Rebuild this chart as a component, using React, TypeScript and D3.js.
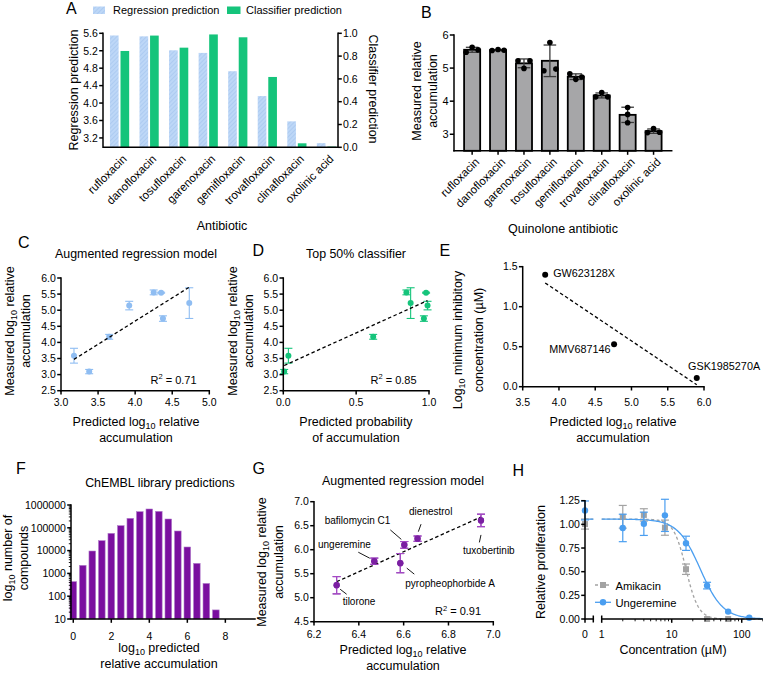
import React from 'react';
import * as d3 from 'd3';

const FONT = '"Liberation Sans", Arial, Helvetica, sans-serif';
const GREEN = '#15c47b';
const LIGHT_BLUE = '#8fbdf2';
const F_PURPLE = '#7a0e9f';
const G_PURPLE = '#7b1fa2';
const G_ERR = '#a64bc7';
const H_BLUE = '#4a9ef0';
const H_GRAY = '#a3a3a3';
const BAR_GRAY = '#a6a6a8';
const SW = 1.5;

// ---- A: predictions for quinolones
const predAntibiotics = ['rufloxacin', 'danofloxacin', 'tosufloxacin', 'garenoxacin', 'gemifloxacin', 'trovafloxacin', 'clinafloxacin', 'oxolinic acid'];
const regressionPrediction = [5.55, 5.53, 5.21, 5.15, 4.73, 4.16, 3.58, 3.08];
const classifierPrediction = [0.845, 0.98, 0.874, 0.99, 0.965, 0.617, 0.035, 0.006];
const aLeftTicks = [3.2, 3.6, 4.0, 4.4, 4.8, 5.2, 5.6];
const aRightTicks = [0, 0.2, 0.4, 0.6, 0.8, 1.0];

// ---- B: measured accumulation (3 replicates)
const measuredAntibiotics = ['rufloxacin', 'danofloxacin', 'garenoxacin', 'tosufloxacin', 'gemifloxacin', 'trovafloxacin', 'clinafloxacin', 'oxolinic acid'];
const measuredReplicates = [
  [5.48, 5.63, 5.55],
  [5.53, 5.56, 5.54],
  [5.22, 4.99, 5.22],
  [4.92, 5.77, 4.97],
  [4.83, 4.66, 4.73],
  [4.13, 4.26, 4.13],
  [3.81, 3.35, 3.6],
  [3.05, 3.17, 3.06],
];
const bTicks = [3, 4, 5, 6];

// ---- C / D (same order as measuredAntibiotics)
const augmentedPrediction = [4.25, 4.35, 3.92, 4.73, 4.375, 3.65, 3.175, 3.38];
const cxTicks = [3.0, 3.5, 4.0, 4.5, 5.0];
const cdyTicks = [2.5, 3.0, 3.5, 4.0, 4.5, 5.0, 5.5, 6.0];
const dxTicks = [0, 0.5, 1.0];

// ---- E
const mtbCompounds = ['GW623128X', 'MMV687146', 'GSK1985270A'];
const mtbPredicted = [3.81, 4.76, 5.9];
const mtbLogMIC = [1.4, 0.53, 0.11];
const exTicks = [3.5, 4.0, 4.5, 5.0, 5.5, 6.0];
const eyTicks = [0, 0.5, 1.0, 1.5];

// ---- F
const binCenters = [0, 0.5, 1, 1.5, 2, 2.5, 3, 3.5, 4, 4.5, 5, 5.5, 6, 6.5, 7, 7.5];
const compoundCounts = [436, 2260, 9600, 27300, 57200, 124000, 260000, 510000, 668000, 527000, 243000, 72400, 14400, 2760, 363, 25];
const fxTicks = [0, 2, 4, 6, 8];
const fyTicks = [10, 100, 1000, 10000, 100000, 1000000];

// ---- G
const gCompounds = ['tilorone', 'ungeremine', 'pyropheophorbide A', 'bafilomycin C1', 'dienestrol', 'tuxobertinib'];
const gPredicted = [6.301, 6.469, 6.585, 6.603, 6.662, 6.945];
const gMeasured = [5.26, 5.76, 5.72, 6.1, 6.23, 6.61];
const gSD = [0.18, 0.065, 0.2, 0.07, 0.055, 0.13];
const gxTicks = [6.2, 6.4, 6.6, 6.8, 7.0];
const gyTicks = [4.5, 5.0, 5.5, 6.0, 6.5, 7.0];

// ---- H
const concentrations = [0, 2, 4, 8, 16, 32, 64, 128];
const amikacinMean = [1.003, 1.08, 1.1, 0.965, 0.526, 0.0, 0.0, NaN];
const amikacinSD = [0.053, 0.12, 0.065, 0.08, 0.055, 0, 0, NaN];
const ungeremineMean = [1.147, 0.962, 1.006, 1.095, 0.8, 0.353, 0.078, 0.014];
const ungeremineSD = [0.1, 0.145, 0.123, 0.17, 0.075, 0.035, 0.008, 0.004];
const amikacinFit = { top: 1.055, bottom: 0, ic50: 16, hill: 4.9 };
const ungeremineFit = { top: 1.055, bottom: 0, ic50: 25.6, hill: 2.7 };
const hyTicks = [0, 0.25, 0.5, 0.75, 1.0, 1.25];

const f1 = d3.format('.1f');
const f2 = d3.format('.2f');

function linFit(xs: number[], ys: number[]) {
  const mx = d3.mean(xs)!;
  const my = d3.mean(ys)!;
  const sxy = d3.sum(xs, (x, i) => (x - mx) * (ys[i] - my));
  const sxx = d3.sum(xs, (x) => (x - mx) ** 2);
  const slope = sxy / sxx;
  return (x: number) => my + slope * (x - mx);
}

function AxisLeft({ scale, x, ticks, fmt, fs = 10.5, len = 3.8, minor = [] }: any) {
  const [r0, r1] = scale.range();
  return (
    <g>
      {minor.map((v: number) => (
        <line key={'m' + v} x1={x - 2.2} x2={x} y1={scale(v)} y2={scale(v)} stroke="#000" strokeWidth={0.9} />
      ))}
      {ticks.map((v: number) => (
        <g key={v}>
          <line x1={x - len} x2={x} y1={scale(v)} y2={scale(v)} stroke="#000" strokeWidth={SW} />
          <text x={x - len - 1.3} y={scale(v)} dy="0.36em" fontSize={fs} textAnchor="end">{fmt(v)}</text>
        </g>
      ))}
      <line x1={x} x2={x} y1={r0} y2={r1} stroke="#000" strokeWidth={SW} strokeLinecap="square" />
    </g>
  );
}

function AxisRight({ scale, x, ticks, fmt, fs = 10.5, len = 3.8 }: any) {
  const [r0, r1] = scale.range();
  return (
    <g>
      {ticks.map((v: number) => (
        <g key={v}>
          <line x1={x} x2={x + len} y1={scale(v)} y2={scale(v)} stroke="#000" strokeWidth={SW} />
          <text x={x + len + 1.3} y={scale(v)} dy="0.36em" fontSize={fs}>{fmt(v)}</text>
        </g>
      ))}
      <line x1={x} x2={x} y1={r0} y2={r1} stroke="#000" strokeWidth={SW} strokeLinecap="square" />
    </g>
  );
}

function AxisBottom({ scale, y, ticks, fmt, fs = 10.5, len = 3.8, off = 15.5, from, to }: any) {
  const [r0, r1] = scale.range();
  return (
    <g>
      {ticks.map((v: number) => (
        <g key={v}>
          <line x1={scale(v)} x2={scale(v)} y1={y} y2={y + len} stroke="#000" strokeWidth={SW} />
          <text x={scale(v)} y={y + off} fontSize={fs} textAnchor="middle">{fmt(v)}</text>
        </g>
      ))}
      <line x1={from ?? r0} x2={to ?? r1} y1={y} y2={y} stroke="#000" strokeWidth={SW} strokeLinecap="square" />
    </g>
  );
}

function Log10Text({ pre, post, fs = 12.5 }: { pre: string; post: string; fs?: number }) {
  return (
    <>
      <tspan>{pre}</tspan>
      <tspan fontSize={fs * 0.72} dy={fs * 0.24}>10</tspan>
      <tspan dy={-fs * 0.24}>{post}</tspan>
    </>
  );
}

function RSquared({ x, y, value }: { x: number; y: number; value: string }) {
  return (
    <text x={x} y={y} fontSize={11}>
      <tspan>R</tspan>
      <tspan fontSize={7.5} dy={-4.5}>2</tspan>
      <tspan dy={4.5}>{` = ${value}`}</tspan>
    </text>
  );
}

function PanelLabel({ x, y, t }: { x: number; y: number; t: string }) {
  return <text x={x} y={y} fontSize={16}>{t}</text>;
}

function ErrBar({ x, y0, y1, cap, color, w = 1.2 }: any) {
  return (
    <g stroke={color} strokeWidth={w}>
      <line x1={x} x2={x} y1={y0} y2={y1} />
      <line x1={x - cap} x2={x + cap} y1={y0} y2={y0} />
      <line x1={x - cap} x2={x + cap} y1={y1} y2={y1} />
    </g>
  );
}

function PanelA() {
  const x = d3.scaleBand<string>().domain(predAntibiotics).range([107, 339]).paddingInner(0.35).paddingOuter(0.1);
  const sub = d3.scaleBand<string>().domain(['reg', 'cls']).range([0, x.bandwidth()]).paddingInner(0.18);
  const yL = d3.scaleLinear().domain([2.985, 5.6]).range([147.3, 33.3]);
  const yR = d3.scaleLinear().domain([0, 1]).range([147.3, 33.3]);
  const base = 147.3;
  return (
    <g>
      {predAntibiotics.map((name, i) => {
        const gx = x(name)!;
        return (
          <g key={name}>
            <rect x={gx + sub('reg')!} y={yL(regressionPrediction[i])} width={sub.bandwidth()} height={base - yL(regressionPrediction[i])} fill="url(#hatch)" />
            <rect x={gx + sub('cls')!} y={yR(classifierPrediction[i])} width={sub.bandwidth()} height={base - yR(classifierPrediction[i])} fill={GREEN} />
            <text transform={`translate(${gx + x.bandwidth() / 2 + 2},${base + 6.5}) rotate(-45)`} textAnchor="end" dy="0.72em" fontSize={11.5}>{name}</text>
          </g>
        );
      })}
      <AxisLeft scale={yL} x={103} ticks={aLeftTicks} fmt={f1} />
      <AxisRight scale={yR} x={338} ticks={aRightTicks} fmt={f1} />
      <line x1={103} x2={338} y1={base} y2={base} stroke="#000" strokeWidth={SW} />
      <rect x={93} y={6.5} width={12} height={7.5} fill="url(#hatch)" />
      <text x={113} y={13.7} fontSize={11}>Regression prediction</text>
      <rect x={227} y={6.5} width={13.5} height={7.5} fill={GREEN} />
      <text x={246} y={13.7} fontSize={11}>Classifier prediction</text>
      <text x={222} y={230} fontSize={12.5} textAnchor="middle">Antibiotic</text>
      <text transform="translate(78,90) rotate(-90)" fontSize={12.5} textAnchor="middle">Regression prediction</text>
      <text transform="translate(368.5,89) rotate(90)" fontSize={12.5} textAnchor="middle">Classifier prediction</text>
      <PanelLabel x={66} y={13.5} t="A" />
    </g>
  );
}

function jitterOffsets(vals: number[], scale: (v: number) => number, r: number, spread: number) {
  const px = vals.map(scale);
  const overlapping = vals.map((_, i) => px.some((p, j) => j !== i && Math.abs(p - px[i]) < 2 * r + 0.5));
  const group = vals.map((_, i) => i).filter((i) => overlapping[i]);
  return vals.map((_, i) => {
    if (!overlapping[i]) return 0;
    const k = group.indexOf(i);
    if (group.length === 2) return k === 0 ? -spread : spread;
    return (k - (group.length - 1) / 2) * spread;
  });
}

function PanelB() {
  const x = d3.scaleBand<string>().domain(measuredAntibiotics).range([454, 671.7]).paddingInner(0.38).paddingOuter(0.39);
  const y = d3.scaleLinear().domain([2.5, 6]).range([150.8, 35]);
  const base = 150.8;
  return (
    <g>
      {measuredAntibiotics.map((name, i) => {
        const reps = measuredReplicates[i];
        const m = d3.mean(reps)!;
        const sd = d3.deviation(reps)!;
        const cx = x(name)! + x.bandwidth() / 2;
        const offs = jitterOffsets(reps, y, 2.8, 6);
        return (
          <g key={name}>
            <rect x={x(name)!} y={y(m)} width={x.bandwidth()} height={base - y(m)} fill={BAR_GRAY} stroke="#000" strokeWidth={1.8} />
            <ErrBar x={cx} y0={y(m + sd)} y1={y(m - sd)} cap={6.3} color="#3a3a3a" w={1.3} />
            {reps.map((v, k) => (
              <circle key={k} cx={cx + offs[k]} cy={y(v)} r={2.8} fill="#000" />
            ))}
            <line x1={cx} x2={cx} y1={base} y2={base + 4} stroke="#000" strokeWidth={SW} />
            <text transform={`translate(${cx + 2},${base + 6}) rotate(-45)`} textAnchor="end" dy="0.72em" fontSize={11.5}>{name}</text>
          </g>
        );
      })}
      <AxisLeft scale={y} x={454} ticks={bTicks} fmt={(v: number) => String(v)} fs={11} len={4.2} />
      <line x1={454} x2={671.7} y1={base} y2={base} stroke="#000" strokeWidth={SW} strokeLinecap="square" />
      <text x={563} y={233} fontSize={12.5} textAnchor="middle">Quinolone antibiotic</text>
      <text transform="translate(420.5,91) rotate(-90)" fontSize={12.5} textAnchor="middle">Measured relative</text>
      <text transform="translate(436.5,91) rotate(-90)" fontSize={12.5} textAnchor="middle">accumulation</text>
      <PanelLabel x={421} y={17.5} t="B" />
    </g>
  );
}

function ScatterWithFit({ xs, ys, sds, xScale, yScale, color, cap = 4, r = 3 }: any) {
  const fit = linFit(xs, ys);
  const x0 = d3.min(xs as number[])!;
  const x1 = d3.max(xs as number[])!;
  return (
    <g>
      {xs.map((xv: number, i: number) =>
        sds[i] > 0 ? (
          <ErrBar key={'e' + i} x={xScale(xv)} y0={yScale(ys[i] + sds[i])} y1={yScale(ys[i] - sds[i])} cap={cap} color={color} w={1.1} />
        ) : null
      )}
      {xs.map((xv: number, i: number) => (
        <circle key={'p' + i} cx={xScale(xv)} cy={yScale(ys[i])} r={r} fill={color} />
      ))}
      <line x1={xScale(x0)} y1={yScale(fit(x0))} x2={xScale(x1)} y2={yScale(fit(x1))} stroke="#000" strokeWidth={1.3} strokeDasharray="3.5,2.5" />
    </g>
  );
}

function PanelC() {
  const x = d3.scaleLinear().domain([3, 5]).range([61, 209.3]);
  const y = d3.scaleLinear().domain([2.5, 6]).range([390.7, 278]);
  const means = measuredReplicates.map((r) => d3.mean(r)!);
  const sds = measuredReplicates.map((r) => d3.deviation(r)!);
  return (
    <g>
      <ScatterWithFit xs={augmentedPrediction} ys={means} sds={sds} xScale={x} yScale={y} color={LIGHT_BLUE} />
      <AxisLeft scale={y} x={61} ticks={cdyTicks} fmt={f1} />
      <AxisBottom scale={x} y={390.7} ticks={cxTicks} fmt={f1} />
      <RSquared x={150.5} y={383.5} value="0.71" />
      <text x={136} y={258} fontSize={12.4} textAnchor="middle">Augmented regression model</text>
      <text transform="translate(14,331) rotate(-90)" fontSize={12.5} textAnchor="middle"><Log10Text pre="Measured log" post=" relative" /></text>
      <text transform="translate(30,331) rotate(-90)" fontSize={12.5} textAnchor="middle">accumulation</text>
      <text x={136} y={426} fontSize={12.5} textAnchor="middle"><Log10Text pre="Predicted log" post=" relative" /></text>
      <text x={136} y={442} fontSize={12.5} textAnchor="middle">accumulation</text>
      <PanelLabel x={18} y={247.5} t="C" />
    </g>
  );
}

function PanelD() {
  const x = d3.scaleLinear().domain([0, 1]).range([283.3, 429]);
  const y = d3.scaleLinear().domain([2.5, 6]).range([390.7, 278]);
  const means = measuredReplicates.map((r) => d3.mean(r)!);
  const sds = measuredReplicates.map((r) => d3.deviation(r)!);
  const probs = measuredAntibiotics.map((n) => classifierPrediction[predAntibiotics.indexOf(n)]);
  return (
    <g>
      <ScatterWithFit xs={probs} ys={means} sds={sds} xScale={x} yScale={y} color={GREEN} />
      <AxisLeft scale={y} x={283.3} ticks={cdyTicks} fmt={f1} />
      <AxisBottom scale={x} y={390.7} ticks={dxTicks} fmt={f1} />
      <RSquared x={370.5} y={383.5} value="0.85" />
      <text x={356} y={258} fontSize={12.4} textAnchor="middle">Top 50% classifier</text>
      <text transform="translate(236.5,331) rotate(-90)" fontSize={12.5} textAnchor="middle"><Log10Text pre="Measured log" post=" relative" /></text>
      <text transform="translate(252.5,331) rotate(-90)" fontSize={12.5} textAnchor="middle">accumulation</text>
      <text x={356} y={426} fontSize={12.5} textAnchor="middle">Predicted probability</text>
      <text x={356} y={442} fontSize={12.5} textAnchor="middle">of accumulation</text>
      <PanelLabel x={252.5} y={256} t="D" />
    </g>
  );
}

function PanelE() {
  const x = d3.scaleLinear().domain([3.5, 6]).range([522.7, 704]);
  const y = d3.scaleLinear().domain([0, 1.5]).range([386.7, 266.7]);
  const labelPlace: Record<string, { dx: number; dy: number; anchor: string }> = {
    GW623128X: { dx: 8, dy: 2.5, anchor: 'start' },
    MMV687146: { dx: -3.5, dy: 9, anchor: 'end' },
    GSK1985270A: { dx: -8.7, dy: -8, anchor: 'start' },
  };
  return (
    <g>
      <ScatterWithFit xs={mtbPredicted} ys={mtbLogMIC} sds={mtbPredicted.map(() => 0)} xScale={x} yScale={y} color="#000" />
      {mtbCompounds.map((c, i) => (
        <text key={c} x={x(mtbPredicted[i]) + labelPlace[c].dx} y={y(mtbLogMIC[i]) + labelPlace[c].dy} fontSize={10.8} textAnchor={labelPlace[c].anchor}>{c}</text>
      ))}
      <AxisLeft scale={y} x={522.7} ticks={eyTicks} fmt={f1} />
      <AxisBottom scale={x} y={386.7} ticks={exTicks} fmt={f1} off={19.5} />
      <text transform="translate(462,340) rotate(-90)" fontSize={12.5} textAnchor="middle"><Log10Text pre="Log" post=" minimum inhibitory" /></text>
      <text transform="translate(483,340) rotate(-90)" fontSize={12.5} textAnchor="middle">concentration (µM)</text>
      <text x={613} y={426} fontSize={12.5} textAnchor="middle"><Log10Text pre="Predicted log" post=" relative" /></text>
      <text x={613} y={442} fontSize={12.5} textAnchor="middle">accumulation</text>
      <PanelLabel x={439.5} y={256} t="E" />
    </g>
  );
}

function PanelF() {
  const x = d3.scaleLinear().domain([-0.12, 9.56]).range([71, 255]);
  const y = d3.scaleLog().domain([10, 1e6]).range([619, 505]);
  const barW = x(0.35) - x(0);
  const minor: number[] = [];
  fyTicks.slice(0, -1).forEach((d) => {
    for (let k = 2; k <= 9; k++) minor.push(d * k);
  });
  return (
    <g>
      {binCenters.map((b, i) => (
        <rect key={b} x={x(b) - barW / 2} y={y(compoundCounts[i])} width={barW} height={619 - y(compoundCounts[i])} fill={F_PURPLE} stroke="#b27fcb" strokeWidth={0.6} />
      ))}
      <AxisLeft scale={y} x={71} ticks={fyTicks} fmt={(v: number) => String(v)} minor={minor} />
      <AxisBottom scale={x} y={619} ticks={fxTicks} fmt={(v: number) => String(v)} off={20.5} from={71} to={255} />
      <text x={160} y={486.5} fontSize={12.4} textAnchor="middle">ChEMBL library predictions</text>
      <text transform="translate(12,558) rotate(-90)" fontSize={12.5} textAnchor="middle"><Log10Text pre="log" post=" number of" /></text>
      <text transform="translate(28,558) rotate(-90)" fontSize={12.5} textAnchor="middle">compounds</text>
      <text x={159} y={651.5} fontSize={12.5} textAnchor="middle"><Log10Text pre="log" post=" predicted" /></text>
      <text x={159} y={668} fontSize={12.5} textAnchor="middle">relative accumulation</text>
      <PanelLabel x={16} y={473.5} t="F" />
    </g>
  );
}

function PanelG() {
  const x = d3.scaleLinear().domain([6.2, 7]).range([314, 493.3]);
  const y = d3.scaleLinear().domain([4.5, 7]).range([621.7, 501.7]);
  // text offset and leader line (relative to the point) for each annotation
  const notes: Record<string, { dx: number; dy: number; anchor: string; lead: number[] }> = {
    tilorone: { dx: 6, dy: 20, anchor: 'start', lead: [3.5, 4, 10, 9] },
    ungeremine: { dx: -3.5, dy: -13, anchor: 'end', lead: [-16, -9, -4.5, -3] },
    'pyropheophorbide A': { dx: 5, dy: 24, anchor: 'start', lead: [6.5, 5, 14, 11] },
    'bafilomycin C1': { dx: -14, dy: -21, anchor: 'end', lead: [-14, -15, -3, -5.5] },
    dienestrol: { dx: -8.5, dy: -23.5, anchor: 'start', lead: [3.5, -14.5, 0.8, -7] },
    tuxobertinib: { dx: -18, dy: 33.5, anchor: 'start', lead: [0, 14.5, -1.6, 22] },
  };
  return (
    <g>
      <ScatterWithFit xs={gPredicted} ys={gMeasured} sds={gSD} xScale={x} yScale={y} color={G_PURPLE} cap={4} r={3.1} />
      {gSD.map((s, i) => (
        <ErrBar key={i} x={x(gPredicted[i])} y0={y(gMeasured[i] + s)} y1={y(gMeasured[i] - s)} cap={4} color={G_ERR} w={1.1} />
      ))}
      {gCompounds.map((c, i) => {
        const px = x(gPredicted[i]);
        const py = y(gMeasured[i]);
        const n = notes[c];
        return (
          <g key={c}>
            <circle cx={px} cy={py} r={3.1} fill={G_PURPLE} />
            <line x1={px + n.lead[0]} y1={py + n.lead[1]} x2={px + n.lead[2]} y2={py + n.lead[3]} stroke="#000" strokeWidth={0.9} />
            <text x={px + n.dx} y={py + n.dy} fontSize={10} textAnchor={n.anchor}>{c}</text>
          </g>
        );
      })}
      <AxisLeft scale={y} x={314} ticks={gyTicks} fmt={f1} />
      <AxisBottom scale={x} y={621.7} ticks={gxTicks} fmt={f1} off={16.5} />
      <RSquared x={435} y={615} value="0.91" />
      <text x={403} y={485} fontSize={12.4} textAnchor="middle">Augmented regression model</text>
      <text transform="translate(266,562) rotate(-90)" fontSize={12.5} textAnchor="middle"><Log10Text pre="Measured log" post=" relative" /></text>
      <text transform="translate(282.5,562) rotate(-90)" fontSize={12.5} textAnchor="middle">accumulation</text>
      <text x={403} y={653.5} fontSize={12.5} textAnchor="middle"><Log10Text pre="Predicted log" post=" relative" /></text>
      <text x={403} y={669.5} fontSize={12.5} textAnchor="middle">accumulation</text>
      <PanelLabel x={252.5} y={473.5} t="G" />
    </g>
  );
}

function PanelH() {
  const y = d3.scaleLinear().domain([0, 1.25]).range([619, 500.7]);
  const xl = d3.scaleLog().domain([1, 200]).range([601.7, 762.8]);
  const xZero = 585;
  const brk = 593.3;
  const xc = (c: number) => (c === 0 ? xZero : xl(c));
  const hill = (p: typeof amikacinFit, c: number) => p.bottom + (p.top - p.bottom) / (1 + Math.pow(c / p.ic50, p.hill));
  const samples = d3.range(0, 161).map((i) => Math.pow(10, (i / 160) * Math.log10(200)));
  const line = (p: typeof amikacinFit) =>
    d3.line<number>().x((c) => xl(c)).y((c) => y(hill(p, c)))(samples)!;
  const minor: number[] = [];
  [1, 10].forEach((d) => {
    for (let k = 2; k <= 9; k++) minor.push(d * k);
  });
  minor.push(200);
  const base = 619;
  return (
    <g>
      <line x1={xZero} x2={brk} y1={y(amikacinFit.top)} y2={y(amikacinFit.top)} stroke={H_GRAY} strokeWidth={1.3} strokeDasharray="3,2.5" />
      <line x1={xZero} x2={brk} y1={y(ungeremineFit.top)} y2={y(ungeremineFit.top)} stroke={H_BLUE} strokeWidth={1.3} />
      <path d={line(amikacinFit)} fill="none" stroke={H_GRAY} strokeWidth={1.3} strokeDasharray="3,2.5" />
      <path d={line(ungeremineFit)} fill="none" stroke={H_BLUE} strokeWidth={1.3} />
      {concentrations.map((c, i) =>
        Number.isFinite(amikacinMean[i]) ? (
          <g key={'a' + c}>
            {amikacinSD[i] > 0 && <ErrBar x={xc(c)} y0={y(amikacinMean[i] + amikacinSD[i])} y1={y(amikacinMean[i] - amikacinSD[i])} cap={4} color={H_GRAY} w={1.2} />}
            <rect x={xc(c) - 3} y={y(amikacinMean[i]) - 3} width={6} height={6} fill={H_GRAY} />
          </g>
        ) : null
      )}
      {concentrations.map((c, i) => (
        <g key={'u' + c}>
          {ungeremineSD[i] > 0.01 && <ErrBar x={xc(c)} y0={y(ungeremineMean[i] + ungeremineSD[i])} y1={y(ungeremineMean[i] - ungeremineSD[i])} cap={4} color={H_BLUE} w={1.2} />}
          <circle cx={xc(c)} cy={y(ungeremineMean[i])} r={3.2} fill={H_BLUE} />
        </g>
      ))}
      {/* legend */}
      <line x1={595} x2={611} y1={585} y2={585} stroke={H_GRAY} strokeWidth={1.3} strokeDasharray="3,2.5" />
      <rect x={600} y={582} width={6} height={6} fill={H_GRAY} />
      <text x={615.5} y={589.5} fontSize={11.2}>Amikacin</text>
      <line x1={595} x2={611} y1={602.3} y2={602.3} stroke={H_BLUE} strokeWidth={1.3} />
      <circle cx={603} cy={602.3} r={3.2} fill={H_BLUE} />
      <text x={615.5} y={606.5} fontSize={11.2}>Ungeremine</text>
      {/* axes */}
      <AxisLeft scale={y} x={xZero} ticks={hyTicks} fmt={f2} />
      <line x1={xZero} x2={brk} y1={base} y2={base} stroke="#000" strokeWidth={SW} strokeLinecap="square" />
      <line x1={brk} x2={brk} y1={base - 3.5} y2={base + 3.5} stroke="#000" strokeWidth={SW} />
      <line x1={xZero} x2={xZero} y1={base} y2={base + 3.8} stroke="#000" strokeWidth={SW} />
      <line x1={601.7} x2={762.8} y1={base} y2={base} stroke="#000" strokeWidth={SW} />
      <line x1={601.7} x2={601.7} y1={base - 3.5} y2={base + 3.8} stroke="#000" strokeWidth={SW} />
      {[10, 100].map((v) => (
        <line key={v} x1={xl(v)} x2={xl(v)} y1={base} y2={base + 3.8} stroke="#000" strokeWidth={SW} />
      ))}
      {minor.map((v) => (
        <line key={'m' + v} x1={xl(v)} x2={xl(v)} y1={base} y2={base + 2.3} stroke="#000" strokeWidth={0.9} />
      ))}
      <text x={xZero} y={637.5} fontSize={10.5} textAnchor="middle">0</text>
      {[1, 10, 100].map((v) => (
        <text key={'t' + v} x={xl(v)} y={637.5} fontSize={10.5} textAnchor="middle">{v}</text>
      ))}
      <text x={673} y={654} fontSize={12.5} textAnchor="middle">Concentration (µM)</text>
      <text transform="translate(545,562) rotate(-90)" fontSize={12.5} textAnchor="middle">Relative proliferation</text>
      <PanelLabel x={512.5} y={475.5} t="H" />
    </g>
  );
}

export default function App() {
  return (
    <svg
      width={763}
      height={673}
      viewBox="0 0 763 673"
      style={{ position: 'absolute', left: 0, top: 0, display: 'block' }}
      fontFamily={FONT}
      fill="#000"
    >
      <defs>
        <pattern id="hatch" width={3} height={3} patternUnits="userSpaceOnUse" patternTransform="rotate(45)">
          <rect width={3} height={3} fill="#bdd7f7" />
          <line x1={0} y1={0} x2={0} y2={3} stroke="#a2c3ee" strokeWidth={1.2} />
        </pattern>
      </defs>
      <rect width={763} height={673} fill="#fff" />
      <PanelA />
      <PanelB />
      <PanelC />
      <PanelD />
      <PanelE />
      <PanelF />
      <PanelG />
      <PanelH />
    </svg>
  );
}
